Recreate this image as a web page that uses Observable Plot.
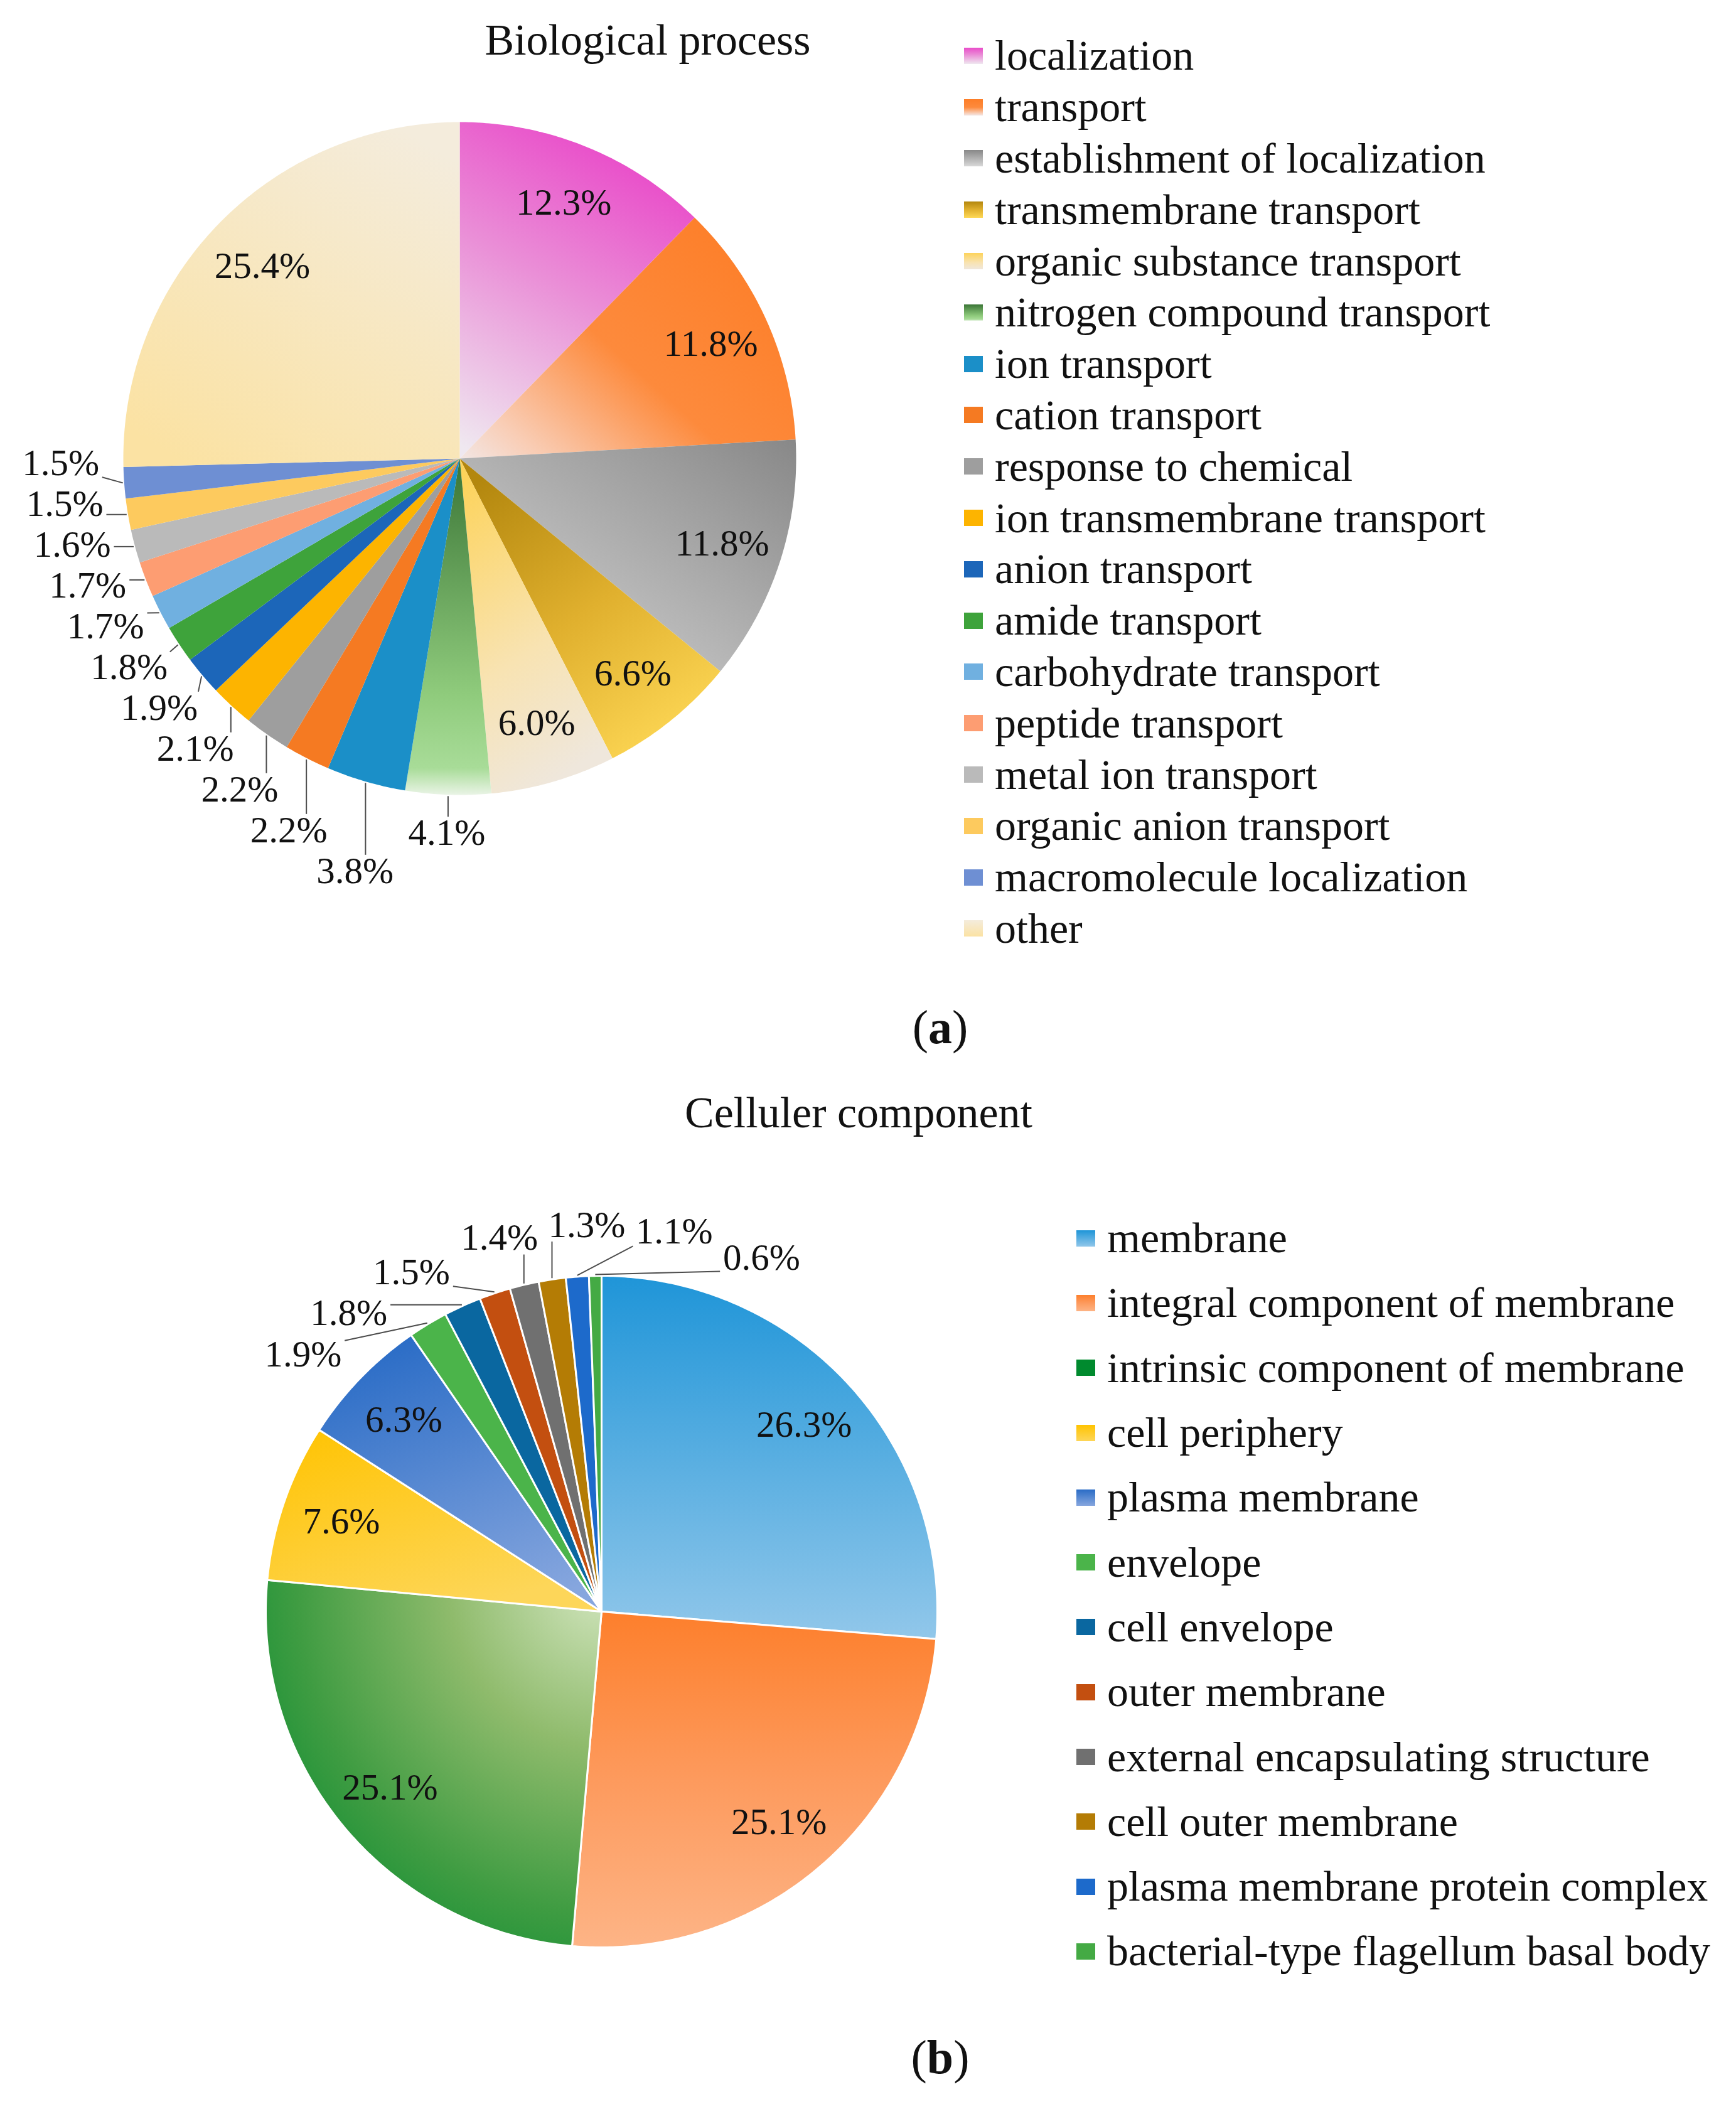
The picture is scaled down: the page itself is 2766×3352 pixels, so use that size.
<!DOCTYPE html>
<html><head><meta charset="utf-8">
<script src="https://cdn.jsdelivr.net/npm/d3@7"></script>
<script src="https://cdn.jsdelivr.net/npm/@observablehq/plot@0.6"></script>
<style>
body{margin:0;background:#fff;}
#root{position:relative;width:2766px;height:3352px;color:#111;overflow:hidden;}
.title{position:absolute;text-align:center;font-size:70px;line-height:80px;white-space:nowrap;width:900px;}
.legend{position:absolute;}
.legend .row{display:flex;align-items:center;white-space:nowrap;font-size:68px;}
.legend .sw{width:30px;height:26px;margin-right:19px;flex:none;}
.cap{position:absolute;font-size:76px;line-height:90px;text-align:center;width:300px;}
.plot{position:absolute;left:0;}
</style></head>
<body><div id="root">
<svg width="0" height="0" style="position:absolute;left:0;top:0"><defs id="grads"></defs></svg>
</div>
<script>
// ---------------- data ----------------
const bpTitle = "Biological process";
const bpCategories = ["localization","transport","establishment of localization","transmembrane transport","organic substance transport","nitrogen compound transport","ion transport","cation transport","response to chemical","ion transmembrane transport","anion transport","amide transport","carbohydrate transport","peptide transport","metal ion transport","organic anion transport","macromolecule localization","other"];
const bpValues = [12.3,11.8,11.8,6.6,6.0,4.1,3.8,2.2,2.2,2.1,1.9,1.8,1.7,1.7,1.6,1.5,1.5,25.4];

const ccTitle = "Celluler component";
const ccCategories = ["membrane","integral component of membrane","intrinsic component of membrane","cell periphery","plasma membrane","envelope","cell envelope","outer membrane","external encapsulating structure","cell outer membrane","plasma membrane protein complex","bacterial-type flagellum basal body"];
const ccValues = [26.3,25.1,25.1,7.6,6.3,1.9,1.8,1.5,1.4,1.3,1.1,0.6];

// ---------------- styles ----------------
const FONT = "Liberation Serif";
const bpFills = [
  {type:"linear",x1:0.5,y1:0,x2:0.1,y2:1,stops:[[0,"#e94bc9"],[0.45,"#ea8fd7"],[1,"#efe8f0"]]},
  {type:"linear",x1:1,y1:0.2,x2:0,y2:1,stops:[[0,"#fd7e28"],[0.5,"#fd8a3c"],[0.85,"#f9cdb5"],[1,"#f2e6e4"]]},
  {type:"linear",x1:1,y1:0,x2:0,y2:1,stops:[[0,"#888888"],[1,"#d8d8d8"]]},
  {type:"linear",x1:0.2,y1:0,x2:0.8,y2:1,stops:[[0,"#b3870e"],[0.5,"#e0b02e"],[1,"#fed856"]]},
  {type:"linear",x1:0.2,y1:0,x2:0.5,y2:1,stops:[[0,"#fdd35a"],[0.6,"#f8e3b2"],[1,"#efe7dc"]]},
  {type:"linear",x1:0.5,y1:0,x2:0.5,y2:1,stops:[[0,"#3a7536"],[0.7,"#8fcb7c"],[0.92,"#a8dc98"],[1,"#eaf4e6"]]},
  "#1b8fc8","#f57a22","#9e9e9e","#fdb400","#1c66b9","#3ea33b","#70b0e0","#fd9d72","#bababa","#fdca5e","#6e8fd3",
  {type:"linear",x1:0.8,y1:0,x2:0.2,y2:1,stops:[[0,"#f4ecdc"],[1,"#fbe2a3"]]}
];
const ccFills = [
  {type:"linear",x1:0,y1:0,x2:0,y2:1,stops:[[0,"#1f95d8"],[1,"#91c7ea"]]},
  {type:"linear",x1:0,y1:0,x2:0,y2:1,stops:[[0,"#fd7f2c"],[0.5,"#fd9a5d"],[1,"#fdb486"]]},
  {type:"radial",cx:1,cy:0,r:1.3,stops:[[0,"#d3e6c0"],[0.35,"#8fbb6c"],[0.7,"#3f9c42"],[1,"#008a2e"]]},
  {type:"linear",x1:0,y1:0,x2:0.6,y2:1,stops:[[0,"#ffc300"],[1,"#fdd659"]]},
  {type:"linear",x1:0.3,y1:0,x2:0.7,y2:1,stops:[[0,"#2a6cc6"],[1,"#86a6de"]]},
  "#4bb44a","#0a67a0","#c34f10","#707070","#b47c05","#1d6acb","#44aa44"
];

const defs = document.getElementById("grads");
const NS = "http://www.w3.org/2000/svg";
function registerFills(prefix, fills) {
  return fills.map((f, i) => {
    if (typeof f === "string") return {ref: f, css: f};
    const id = prefix + i;
    const g = document.createElementNS(NS, f.type === "radial" ? "radialGradient" : "linearGradient");
    g.setAttribute("id", id);
    if (f.type === "radial") { g.setAttribute("cx", f.cx); g.setAttribute("cy", f.cy); g.setAttribute("r", f.r); }
    else { for (const k of ["x1","y1","x2","y2"]) g.setAttribute(k, f[k]); }
    for (const [o, c] of f.stops) {
      const s = document.createElementNS(NS, "stop");
      s.setAttribute("offset", o); s.setAttribute("stop-color", c); g.appendChild(s);
    }
    defs.appendChild(g);
    const css = "linear-gradient(to bottom," + (f.type === "radial" ? [...f.stops].reverse() : f.stops).map(([o,c]) => c + " " + (o*100) + "%").join(",") + ")";
    return {ref: `url(#${id})`, css};
  });
}

// ---------------- geometry helpers ----------------
function slicePoints(cats, vals) {
  const total = d3.sum(vals), ends = d3.cumsum(vals), pts = [];
  cats.forEach((c, i) => {
    const a0 = (ends[i] - vals[i]) / total * 2 * Math.PI, a1 = ends[i] / total * 2 * Math.PI;
    const n = Math.max(2, Math.ceil((a1 - a0) / (Math.PI / 360)));
    pts.push({cat: c, x: 0, y: 0});
    for (let k = 0; k <= n; k++) {
      const a = a0 + (a1 - a0) * k / n;
      pts.push({cat: c, x: Math.sin(a), y: Math.cos(a)});
    }
  });
  return pts;
}

const clamp = (v, a, b) => Math.max(a, Math.min(b, v));

function labelLayout(cats, vals, rPx, fontPx, bounds, mode, marginPx) {
  const total = d3.sum(vals), ends = d3.cumsum(vals);
  const hw0 = fontPx * 1.04 / rPx, hh0 = fontPx * 0.36 / rPx;        // text extents
  const hw = (fontPx * 1.04 + 8) / rPx, hh = (fontPx * 0.5 + 3) / rPx; // spacing boxes
  const margin = marginPx / rPx, gap = 5 / rPx;
  const extOf = (ux, uy) => Math.min(Math.abs(ux) > 1e-9 ? hw0 / Math.abs(ux) : Infinity, Math.abs(uy) > 1e-9 ? hh0 / Math.abs(uy) : Infinity);
  const out = [];
  cats.forEach((c, i) => {
    const v = vals[i];
    const mid = (ends[i] - v / 2) / total * 2 * Math.PI;
    const ux = Math.sin(mid), uy = Math.cos(mid);
    const text = d3.format(".1f")(v) + "%";
    if (v >= 5) { out.push({cat: c, text, x: 0.82 * ux, y: 0.82 * uy, inside: true}); return; }
    const rho = 1 + margin + extOf(ux, uy);
    out.push({cat: c, text, inside: false, ux, uy, phi: mid, x: rho * ux, y: rho * uy});
  });
  const ls = out.filter(d => !d.inside);
  const overlap = (A, B) => Math.abs(B.x - A.x) < 2 * hw && Math.abs(B.y - A.y) < 2 * hh;

  if (mode === "ring") {
    // slide labels along a ring around the pie until they no longer overlap
    const place = L => { const sx = Math.sin(L.phi), sy = Math.cos(L.phi); const rho = 1 + margin + extOf(sx, sy); L.x = rho * sx; L.y = rho * sy; };
    ls.sort((a, b) => a.phi - b.phi);
    for (let it = 0; it < 6000; it++) {
      let moved = false;
      for (let a = 0; a < ls.length; a++) for (let b = a + 1; b < ls.length; b++) {
        if (overlap(ls[a], ls[b])) { ls[a].phi -= 0.0015; ls[b].phi += 0.0015; moved = true; }
      }
      ls.forEach(place);
      if (!moved) break;
    }
  } else {
    const minR = 1 + margin * 0.6;
    for (let it = 0; it < 600; it++) {
      let moved = false;
      for (let a = 0; a < ls.length; a++) for (let b = a + 1; b < ls.length; b++) {
        const A = ls[a], B = ls[b];
        const dx = B.x - A.x, dy = B.y - A.y;
        const ox = 2 * hw - Math.abs(dx), oy = 2 * hh - Math.abs(dy);
        if (ox > 1e-6 && oy > 1e-6) {
          moved = true;
          if (ox < oy) { const s = (dx >= 0 ? 1 : -1) * (ox / 2 + 1e-4); A.x -= s; B.x += s; }
          else { const s = (dy >= 0 ? 1 : -1) * (oy / 2 + 1e-4); A.y -= s; B.y += s; }
        }
      }
      for (const L of ls) {
        const px = clamp(0, L.x - hw0, L.x + hw0), py = clamp(0, L.y - hh0, L.y + hh0);
        const d = Math.hypot(px, py);
        if (d < minR) { const n = Math.hypot(L.x, L.y); L.x += L.x / n * (minR - d); L.y += L.y / n * (minR - d); }
        if (L.x - hw0 < bounds.xmin) L.x = bounds.xmin + hw0;
        if (L.x + hw0 > bounds.xmax) L.x = bounds.xmax - hw0;
        if (L.y + hh0 > bounds.ymax) L.y = bounds.ymax - hh0;
      }
      if (!moved) break;
    }
  }
  for (const L of ls) {
    const ex = 1.004 * L.ux, ey = 1.004 * L.uy;
    let px = clamp(ex, L.x - hw0, L.x + hw0), py = clamp(ey, L.y - hh0, L.y + hh0);
    const len = Math.hypot(px - ex, py - ey);
    if (len > gap) { px -= (px - ex) / len * gap; py -= (py - ey) / len * gap; }
    Object.assign(L, {ex, ey, lx: px, ly: py, lead: len * rPx > 16});
  }
  return out;
}

function pieChart({cats, vals, fills, width, height, cx, cy, r, stroke, strokeWidth, fontPx, mode, marginPx}) {
  const pts = slicePoints(cats, vals);
  const bounds = {xmin: (-cx + 12) / r, xmax: (width - cx - 12) / r, ymax: cy / r - 0.02};
  const labels = labelLayout(cats, vals, r, fontPx, bounds, mode, marginPx);
  return Plot.plot({
    width, height, margin: 0,
    x: {domain: [-cx / r, (width - cx) / r], axis: null},
    y: {domain: [-(height - cy) / r, cy / r], axis: null},
    color: {type: "ordinal", domain: cats, range: fills.map(f => f.ref)},
    style: {background: "transparent", overflow: "visible"},
    marks: [
      Plot.line(pts, {x: "x", y: "y", z: "cat", fill: "cat", stroke, strokeWidth, curve: "linear-closed"}),
      Plot.link(labels.filter(d => !d.inside && d.lead), {x1: "ex", y1: "ey", x2: "lx", y2: "ly", stroke: "#4d4d4d", strokeWidth: 2}),
      Plot.text(labels, {x: "x", y: "y", text: "text", fontSize: fontPx, fontFamily: FONT, fill: "#111", lineAnchor: "middle"})
    ]
  });
}

function addLegend(root, cats, fills, left, top, rowH) {
  const lg = document.createElement("div");
  lg.className = "legend";
  lg.style.left = left + "px"; lg.style.top = top + "px";
  lg.style.fontFamily = `"${FONT}", serif`;
  cats.forEach((c, i) => {
    const row = document.createElement("div");
    row.className = "row"; row.style.height = rowH + "px";
    const sw = document.createElement("span"); sw.className = "sw"; sw.style.background = fills[i].css;
    const tx = document.createElement("span"); tx.textContent = c;
    row.appendChild(sw); row.appendChild(tx); lg.appendChild(row);
  });
  root.appendChild(lg);
}
function addText(root, cls, html, cx, cy, w, lh) {
  const d = document.createElement("div");
  d.className = cls; d.innerHTML = html;
  d.style.fontFamily = `"${FONT}", serif`;
  d.style.left = (cx - w / 2) + "px"; d.style.top = (cy - lh / 2) + "px";
  root.appendChild(d);
}

// ---------------- build ----------------
const root = document.getElementById("root");
root.style.fontFamily = `"${FONT}", serif`;
const bpF = registerFills("bp", bpFills);
const ccF = registerFills("cc", ccFills);

// Panel (a)
addText(root, "title", bpTitle, 1032, 64, 900, 80);
const pa = pieChart({cats: bpCategories, vals: bpValues, fills: bpF, width: 1460, height: 1380, cx: 732, cy: 620, r: 536, stroke: "none", strokeWidth: 0, fontPx: 59, mode: "push", marginPx: 40});
pa.classList.add("plot"); pa.style.top = "110px";
root.appendChild(pa);
addLegend(root, bpCategories, bpF, 1536, 48, 81.8);
addText(root, "cap", "(<b>a</b>)", 1498, 1636, 300, 90);

// Panel (b)
addText(root, "title", ccTitle, 1368, 1773, 900, 80);
const pb = pieChart({cats: ccCategories, vals: ccValues, fills: ccF, width: 1560, height: 1380, cx: 958, cy: 747, r: 535, stroke: "white", strokeWidth: 3, fontPx: 59, mode: "ring", marginPx: 60});
pb.classList.add("plot"); pb.style.top = "1820px";
root.appendChild(pb);
addLegend(root, ccCategories, ccF, 1715, 1921, 103.3);
addText(root, "cap", "(<b>b</b>)", 1498, 3277, 300, 90);
</script>
</body></html>
